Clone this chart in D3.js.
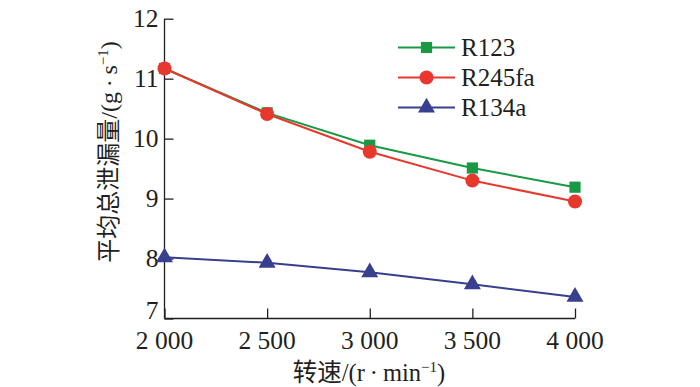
<!DOCTYPE html>
<html>
<head>
<meta charset="utf-8">
<script src="https://cdn.jsdelivr.net/npm/d3@7"></script>
<style>
  body { margin: 0; background: #fff; }
  text { font-family: "Liberation Serif", "Times New Roman", serif; fill: #231f20; }
  .cjk { font-family: "Liberation Serif", "Noto Sans CJK SC", serif; }
</style>
</head>
<body>
<svg id="chart" width="700" height="387"></svg>
<script>
const speeds = [2000, 2500, 3000, 3500, 4000];
const r123 = [11.17, 10.43, 9.89, 9.51, 9.19];
const r245fa = [11.17, 10.41, 9.78, 9.30, 8.95];
const r134a = [8.02, 7.93, 7.77, 7.57, 7.36];
const yTicks = [7, 8, 9, 10, 11, 12];

const series = [
  { name: 'R123', values: r123, color: '#189a45', shape: d3.symbolSquare, size: 125 },
  { name: 'R245fa', values: r245fa, color: '#e8382e', shape: d3.symbolCircle, size: 155 },
  { name: 'R134a', values: r134a, color: '#383f8e', shape: d3.symbolTriangle, size: 125 }
];

const svg = d3.select('#chart');
const x = d3.scaleLinear().domain([2000, 4000]).range([164.5, 575]);
const y = d3.scaleLinear().domain([7, 12]).range([318.5, 18.7]);

const fmt = (d) => d3.format(',')(d).replace(',', ' ');

// y axis, ticks pointing inward
const yAxis = svg.append('g')
  .attr('transform', `translate(${x.range()[0]},0)`)
  .call(d3.axisRight(y).tickValues(yTicks).tickSize(9).tickFormat(''));
yAxis.select('.domain').attr('d', `M0,${y(12)}V${y(7)}`);
yAxis.selectAll('path, line').attr('stroke', '#231f20').attr('stroke-width', 1.3);

// "7" sits a bit higher so it clears the "2 000" label below it
svg.selectAll('.ylab')
  .data(yTicks)
  .join('text')
  .attr('class', 'ylab')
  .attr('x', x.range()[0] - 6)
  .attr('y', (d) => y(d) + (d === 7 ? 0.5 : 8.5))
  .attr('text-anchor', 'end')
  .attr('font-size', 25.5)
  .text((d) => d);

// x axis
const xAxis = svg.append('g')
  .attr('transform', `translate(0,${y(7)})`)
  .call(d3.axisTop(x).tickValues(speeds).tickSize(10).tickFormat(''));
xAxis.select('.domain').attr('d', `M${x(2000)},0H${x(4000)}`);
xAxis.selectAll('path, line').attr('stroke', '#231f20').attr('stroke-width', 1.3);

svg.selectAll('.xlab')
  .data(speeds)
  .join('text')
  .attr('class', 'xlab')
  .attr('x', (d) => x(d))
  .attr('y', y(7) + 30.5)
  .attr('text-anchor', 'middle')
  .attr('font-size', 25.5)
  .text((d) => fmt(d));

// axis titles
const xt = svg.append('text')
  .attr('class', 'cjk')
  .attr('x', 369)
  .attr('y', 380.5)
  .attr('text-anchor', 'middle')
  .attr('font-size', 24.5);
xt.append('tspan').text('转速/(r\u2009·\u2009min');
xt.append('tspan').attr('dy', -9).attr('font-size', 15).text('−1');
xt.append('tspan').attr('dy', 9).text(')');

const yt = svg.append('text')
  .attr('class', 'cjk')
  .attr('transform', 'translate(117,152) rotate(-90)')
  .attr('text-anchor', 'middle')
  .attr('font-size', 24);
yt.append('tspan').text('平均总泄漏量/(g\u2009·\u2009s');
yt.append('tspan').attr('dy', -9).attr('font-size', 15).text('−1');
yt.append('tspan').attr('dy', 9).text(')');

// lines + markers
const line = d3.line().x((d, i) => x(speeds[i])).y((d) => y(d));

series.forEach((s) => {
  svg.append('path')
    .datum(s.values)
    .attr('d', line)
    .attr('fill', 'none')
    .attr('stroke', s.color)
    .attr('stroke-width', 2);
  svg.selectAll(null)
    .data(s.values)
    .join('path')
    .attr('transform', (d, i) => `translate(${x(speeds[i])},${y(d)})`)
    .attr('d', d3.symbol().type(s.shape).size(s.size))
    .attr('fill', s.color);
});

// legend
const legend = svg.append('g').attr('transform', 'translate(398,47.5)');
const rows = legend.selectAll('g')
  .data(series)
  .join('g')
  .attr('transform', (d, i) => `translate(0,${i * 30})`);
rows.append('line')
  .attr('x1', 0).attr('x2', 57)
  .attr('stroke', (d) => d.color)
  .attr('stroke-width', 2);
rows.append('path')
  .attr('transform', 'translate(28.5,0)')
  .attr('d', (d) => d3.symbol().type(d.shape).size(d.size)())
  .attr('fill', (d) => d.color);
rows.append('text')
  .attr('x', 63)
  .attr('y', 8.5)
  .attr('font-size', 25)
  .text((d) => d.name);
</script>
</body>
</html>
